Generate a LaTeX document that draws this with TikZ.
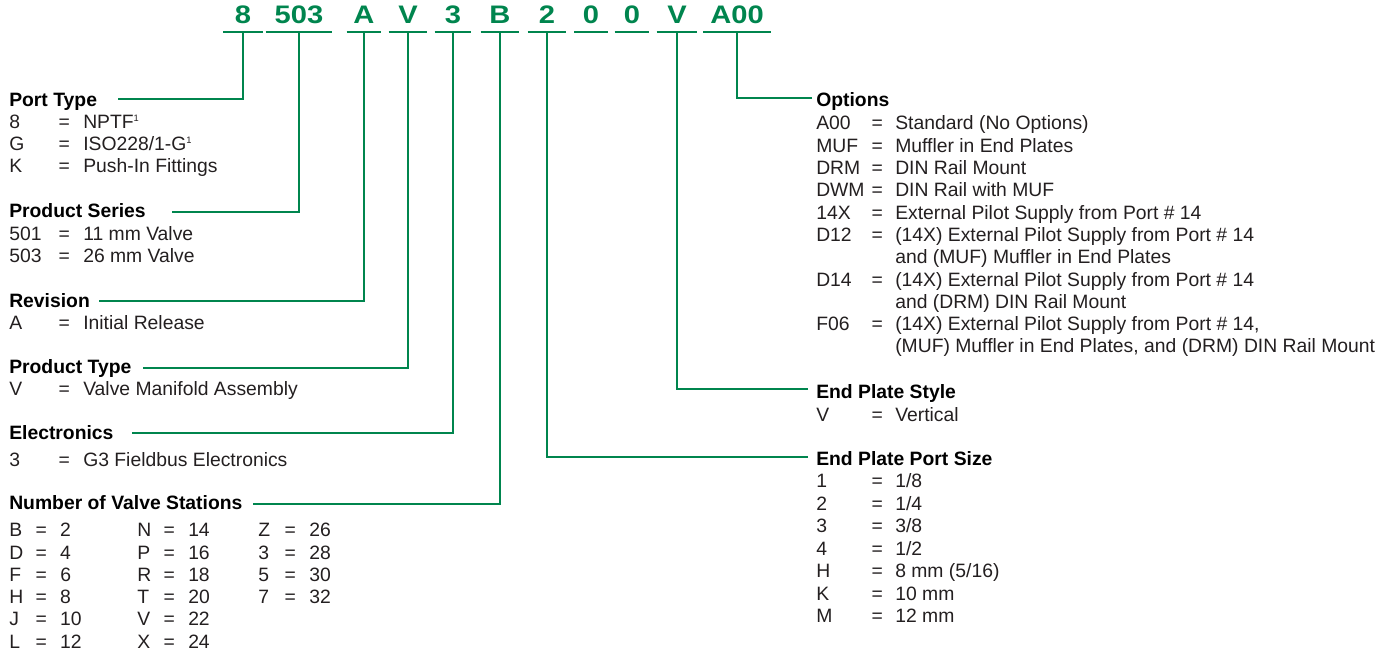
\documentclass[tikz,border=0pt]{standalone}
\usepackage{fontspec}
\setmainfont{Liberation Sans}
\newfontfamily\codefont[FakeStretch=1.15]{Liberation Sans}
\usepackage{tikz}
\usepackage{xcolor}
\usetikzlibrary{positioning}
\definecolor{cCode}{RGB}{0,133,78}
\definecolor{cText}{RGB}{35,31,32}
\newlength\keyw
\newlength\eqw
\newcommand{\kv}[2]{\makebox[\keyw][l]{#1}\makebox[\eqw]{=}#2}
\newcommand{\fnmark}{\raisebox{0.7ex}{\fontsize{7}{7}\selectfont 1}}
\newcommand{\bodysize}{\fontsize{14.5}{16.5}\selectfont}
\tikzset{
	code/.style ={font=\codefont\bfseries\fontsize{19}{19}\selectfont, text=cCode, anchor=south, inner xsep=0pt, inner ysep=6pt, text depth=0pt},
	head/.style ={font=\bodysize\bfseries, text=black, anchor=base west, inner sep=0pt},
	item/.style ={font=\bodysize, text=cText, anchor=base west, inner sep=0pt},
	% key / = / value columns
	lcol/.style ={item, execute at begin node={\setlength\keyw{27pt}\setlength\eqw{28.5pt}}},
	scol/.style ={item, execute at begin node={\setlength\keyw{9.75pt}\setlength\eqw{28.5pt}}},
	rcol/.style ={item, execute at begin node={\setlength\keyw{32.25pt}\setlength\eqw{27pt}}},
	lead/.style ={draw=cCode, line width=0.8pt},
}
\begin{document}
\begin{tikzpicture}[x=0.75pt, y=-0.75pt]
	\useasboundingbox (0,0) rectangle (1385,655);
	% part number
	\node[code, minimum width=29pt] (c8) at (243,32) {8};
	\node[code, minimum width=49.5pt] (c503) at (299,32) {503};
	\node[code, minimum width=25.5pt] (cA) at (364,32) {A};
	\node[code, minimum width=28.5pt] (cV) at (408,32) {V};
	\node[code, minimum width=27pt] (c3) at (453,32) {3};
	\node[code, minimum width=28.5pt] (cB) at (500,32) {B};
	\node[code, minimum width=28.5pt] (c2) at (547,32) {2};
	\node[code, minimum width=25pt] (c0a) at (591,32) {0};
	\node[code, minimum width=25.5pt] (c0b) at (632,32) {0};
	\node[code, minimum width=30pt] (cV2) at (677,32) {V};
	\node[code, minimum width=50pt] (cA00) at (737,32) {A00};
	\foreach \c in {c8,c503,cA,cV,c3,cB,c2,c0a,c0b,cV2,cA00}
		\draw[lead] (\c.south west) -- (\c.south east);

	% left column
	\node[head] (hPort) at (9,107) {Port Type};
	\foreach \k/\v [count=\i] in {8/NPTF\fnmark, G/{ISO228/1-G\fnmark}, K/Push-In Fittings}
		\node[lcol] (port\i) at (9,{107+22*\i}) {\kv{\k}{\v}};
	\node[head] (hSeries) at (9,218) {Product Series};
	\foreach \k/\v [count=\i] in {501/11 mm Valve, 503/26 mm Valve}
		\node[lcol] (series\i) at (9,{218+22.5*\i}) {\kv{\k}{\v}};
	\node[head] (hRev) at (9,308) {Revision};
	\node[lcol] (rev1) at (9,330) {\kv{A}{Initial Release}};
	\node[head] (hType) at (9,374) {Product Type};
	\node[lcol] (type1) at (9,396) {\kv{V}{Valve Manifold Assembly}};
	\node[head] (hElec) at (9,440) {Electronics};
	\node[lcol] (elec1) at (9,467) {\kv{3}{G3 Fieldbus Electronics}};
	\node[head] (hStat) at (9,510) {Number of Valve Stations};
	\foreach \k/\v [count=\i] in {B/2, D/4, F/6, H/8, J/10, L/12}
		\node[scol] (statA\i) at (9,{514.8+22.2*\i}) {\kv{\k}{\v}};
	\foreach \k/\v [count=\i] in {N/14, P/16, R/18, T/20, V/22, X/24}
		\node[scol] (statB\i) at (137,{514.8+22.2*\i}) {\kv{\k}{\v}};
	\foreach \k/\v [count=\i] in {Z/26, 3/28, 5/30, 7/32}
		\node[scol] (statC\i) at (258,{514.8+22.2*\i}) {\kv{\k}{\v}};

	% right column
	\node[head] (hOpt) at (816,107) {Options};
	\foreach \y/\k/\v [count=\i] in {130/A00/Standard (No Options), 152.3/MUF/Muffler in End Plates,
		174.6/DRM/DIN Rail Mount, 196.9/DWM/DIN Rail with MUF, 219.2/14X/External Pilot Supply from Port \# 14,
		241.5/D12/(14X) External Pilot Supply from Port \# 14, 286.1/D14/(14X) External Pilot Supply from Port \# 14,
		330.7/F06/{(14X) External Pilot Supply from Port \# 14,}}
		\node[rcol] (opt\i) at (816,\y) {\kv{\k}{\v}};
	\node[item] (opt6b) at (895,263.8) {and (MUF) Muffler in End Plates};
	\node[item] (opt7b) at (895,308.4) {and (DRM) DIN Rail Mount};
	\node[item] (opt8b) at (895,353) {(MUF) Muffler in End Plates, and (DRM) DIN Rail Mount};
	\node[head] (hStyle) at (816,399) {End Plate Style};
	\node[rcol] (style1) at (816,422) {\kv{V}{Vertical}};
	\node[head] (hSize) at (816,466) {End Plate Port Size};
	\foreach \k/\v [count=\i] in {1/{1/8}, 2/{1/4}, 3/{3/8}, 4/{1/2}, H/{8 mm (5/16)}, K/10 mm, M/12 mm}
		\node[rcol] (size\i) at (816,{465.6+22.4*\i}) {\kv{\k}{\v}};

	% leader lines
	\coordinate (lPort) at (118,99);
	\coordinate (lSeries) at (172,212);
	\coordinate (lRev) at (99,301);
	\coordinate (lType) at (143,368);
	\coordinate (lElec) at (132,433);
	\coordinate (lStat) at (253,504);
	\coordinate (lOpt) at (812,98);
	\coordinate (lStyle) at (808,389);
	\coordinate (lSize) at (808,457);
	\draw[lead] (lPort) -| (c8.south);
	\draw[lead] (lSeries) -| (c503.south);
	\draw[lead] (lRev) -| (cA.south);
	\draw[lead] (lType) -| (cV.south);
	\draw[lead] (lElec) -| (c3.south);
	\draw[lead] (lStat) -| (cB.south);
	\draw[lead] (lOpt) -| (cA00.south);
	\draw[lead] (lStyle) -| (cV2.south);
	\draw[lead] (lSize) -| (c2.south);
\end{tikzpicture}
\end{document}
